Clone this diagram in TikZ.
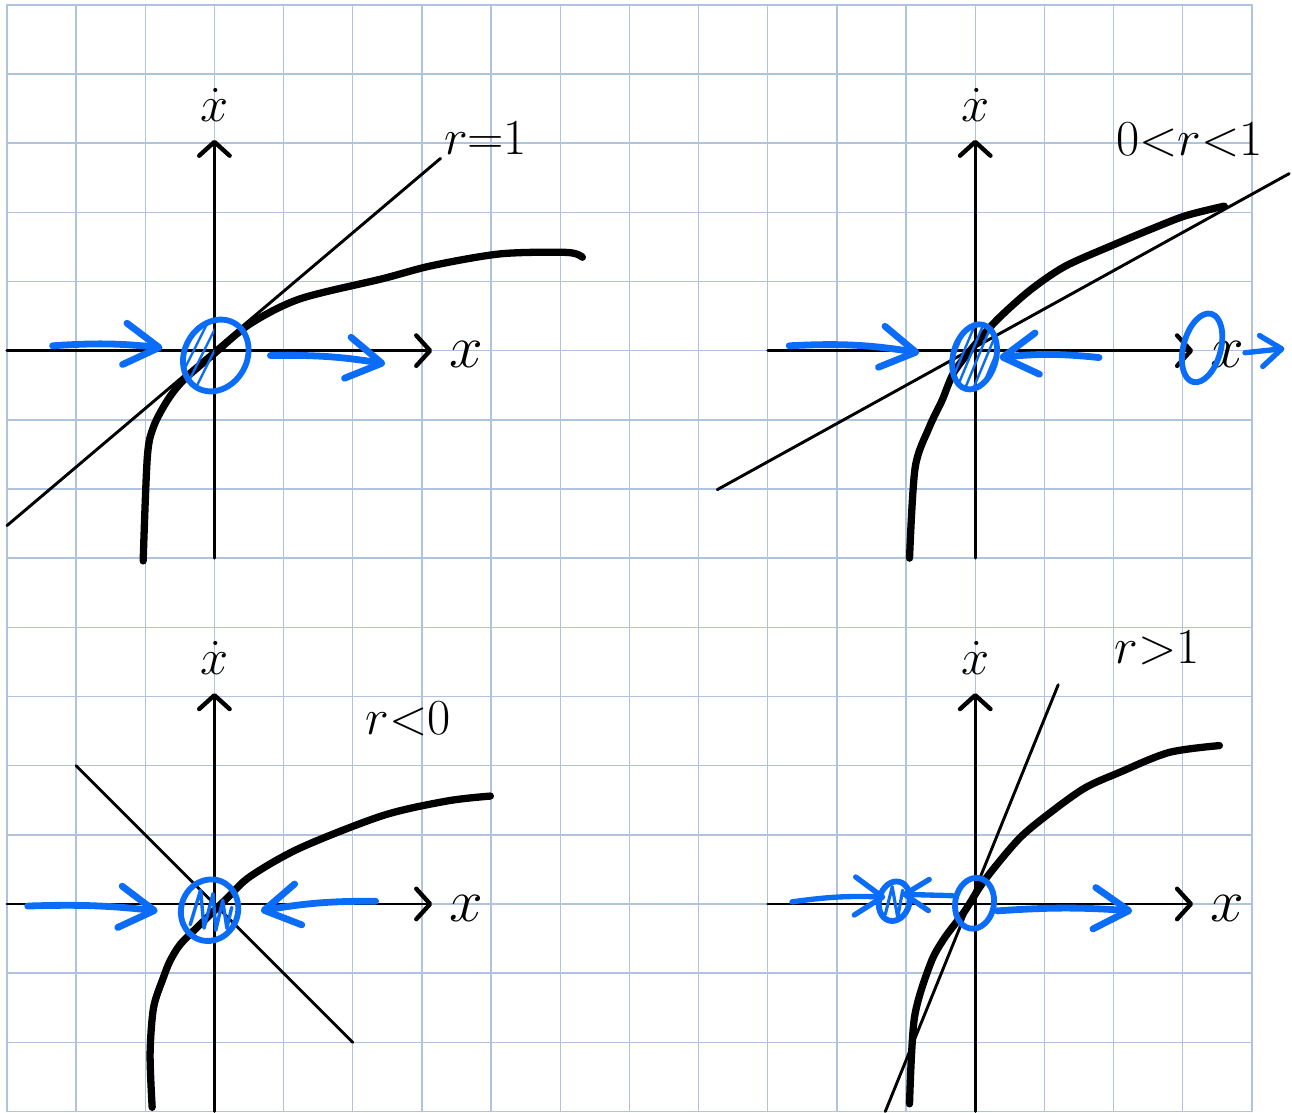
\documentclass[tikz,border=0pt]{standalone}
\usepackage{amsmath}
\usepackage{xcolor}
\usepackage{tikz}
\usetikzlibrary{arrows.meta}
\definecolor{gridblue}{HTML}{AFC2DE}
\definecolor{penblue}{HTML}{0B6CF7}

\begin{document}
\begin{tikzpicture}[
    line cap=round, line join=round,
    gridline/.style={gridblue, line width=0.6pt},
    axis/.style={line width=1.2pt, -{Straight Barb[length=2mm, width=4.4mm, line width=1.8pt, round]}},
    thinline/.style={line width=1.2pt},
    curve/.style={line width=3pt},
    pen/.style={penblue, line width=2.4pt},
    hatch/.style={penblue, line width=1pt},
    flow/.style={penblue, line width=2.8pt, -{Straight Barb[length=5mm, width=6mm, round]}},
    smallflow/.style={penblue, line width=2.2pt, -{Straight Barb[length=3mm, width=4.5mm, round]}},
    lbl/.style={inner sep=0pt, font=\fontsize{20}{22}\selectfont},
    xdotlbl/.style={inner sep=0pt, anchor=base, font=\fontsize{22}{24}\selectfont},
    xlbl/.style={inner sep=0pt, anchor=base, font=\fontsize{28}{30}\selectfont},
  ]
  \useasboundingbox (-0.1,-0.015) rectangle (18.58,16.07);
  \draw[gridline] (0,0) grid (18,16);

  % Axes
  \foreach \ox/\oy/\k in {3/11/a, 14/11/b, 3/3/c, 14/3/d} {
    \begin{scope}[shift={(\ox,\oy)}]
      \draw[axis] (-3,0) -- (3.15,0);
      \draw[axis] (0,-3) -- (0,3.05);
      \node[xdotlbl] (xdot-\k) at (0,3.32) {$\dot{x}$};
      \node[xlbl] (x-\k) at (3.64,-0.25) {$x$};
    \end{scope}
  }

  % r = 1
  \begin{scope}[shift={(3,11)}]
    \draw[thinline] (-3,-2.53) -- (3.27,2.78);
    \node[lbl] (ra) at (3.92,3.07) {$r{=}1$};
    \draw[curve] plot[smooth] coordinates {(-1.03,-3.04) (-0.97,-1.54) (-0.88,-1.1) (-0.68,-0.72) (-0.45,-0.43) (0,-0.04) (0.52,0.39) (1.24,0.75) (2.43,1.04) (3.15,1.23) (4.14,1.4) (5.1,1.42) (5.32,1.35)};
    \begin{scope}
      \clip[shift={(0.02,-0.07)}, rotate=-30] (0,0) ellipse (0.45 and 0.54);
      \clip (-1,-1) rectangle (0,1);
      \foreach \d in {-0.6,-0.45,...,0.1}
        \draw[hatch] (\d-0.3,-0.6) -- (\d+0.3,0.6);
    \end{scope}
    \draw[pen, shift={(0.02,-0.07)}, rotate=-30] (0,0) ellipse (0.45 and 0.54);
    \draw[flow] (-2.34,0.07) to[bend left=5] (-0.75,0.04);
    \draw[flow] (0.81,-0.07) to[bend left=5] (2.47,-0.19);
  \end{scope}

  % 0 < r < 1
  \begin{scope}[shift={(14,11)}]
    \draw[thinline] (-3.73,-2.01) -- (4.54,2.56);
    \node[lbl] (rb) at (3.1,3.04) {$0{<}r{<}1$};
    \draw[curve] plot[smooth] coordinates {(-0.95,-3.0) (-0.87,-1.7) (-0.67,-1.12) (-0.48,-0.72) (-0.3,-0.3) (0.05,0.15) (0.35,0.48) (0.8,0.88) (1.3,1.22) (2.0,1.53) (2.55,1.76) (3.04,1.95) (3.6,2.09)};
    \begin{scope}
      \clip[shift={(-0.01,-0.09)}, rotate=-15] (0,0) ellipse (0.31 and 0.48);
      \foreach \d in {-0.4,-0.28,...,0.4}
        \draw[hatch] (\d-0.25,-0.6) -- (\d+0.25,0.6);
    \end{scope}
    \draw[pen, shift={(-0.01,-0.09)}, rotate=-15] (0,0) ellipse (0.31 and 0.48);
    \draw[pen, shift={(3.28,0.04)}, rotate=-15] (0,0) ellipse (0.27 and 0.51);
    \draw[flow] (-2.69,0.07) to[bend left=6] (-0.81,-0.03);
    \draw[flow] (1.79,-0.1) to[bend right=6] (0.35,-0.1);
    \draw[smallflow] (3.9,-0.03) -- (4.47,0.03);
  \end{scope}

  % r < 0
  \begin{scope}[shift={(3,3)}]
    \draw[thinline] (-2,2) -- (2,-2);
    \node[lbl] (rc) at (2.8,2.67) {$r{<}0$};
    \draw[curve] plot[smooth] coordinates {(-0.9,-2.94) (-0.93,-2.17) (-0.88,-1.5) (-0.74,-1.07) (-0.64,-0.82) (-0.49,-0.58) (-0.2,-0.29) (0.19,0.09) (0.52,0.4) (1.24,0.81) (2.44,1.28) (3.37,1.49) (3.99,1.56)};
    \draw[hatch, line width=1.4pt] (-0.35,-0.3) -- (-0.2,0.2) -- (-0.15,-0.35) -- (-0.02,0.15) -- (0.02,-0.38) -- (0.12,0.05) -- (0.18,-0.35) -- (0.25,-0.05);
    \draw[pen, shift={(-0.07,-0.09)}, rotate=-20] (0,0) ellipse (0.41 and 0.45);
    \draw[flow] (-2.7,-0.03) to[bend left=4] (-0.82,-0.1);
    \draw[flow] (2.33,0.04) to[bend right=5] (0.67,-0.1);
  \end{scope}

  % r > 1
  \begin{scope}[shift={(14,3)}]
    \draw[thinline] (-1.3,-3.0) -- (1.2,3.17);
    \node[lbl] (rd) at (2.63,3.7) {$r{>}1$};
    \draw[curve] plot[smooth] coordinates {(-0.95,-2.89) (-0.88,-1.65) (-0.65,-0.87) (-0.45,-0.5) (-0.15,-0.1) (0.14,0.35) (0.64,0.95) (1.11,1.34) (1.59,1.68) (2.08,1.9) (2.8,2.19) (3.53,2.29)};
    \draw[hatch, line width=1.3pt] (-1.3,-0.15) -- (-1.2,0.25) -- (-1.12,-0.2) -- (-1.05,0.2);
    \draw[pen, shift={(-1.17,0.04)}, rotate=-15] (0,0) ellipse (0.22 and 0.29);
    \draw[pen, shift={(-0.01,0.01)}, rotate=-10] (0,0) ellipse (0.28 and 0.37);
    \draw[smallflow, -{Straight Barb[length=4mm, width=5.5mm, round]}] (-2.65,0.03) to[bend left=5] (-1.3,0.1);
    \draw[smallflow, -{Straight Barb[length=3.5mm, width=4.5mm, round]}] (-0.33,0.12) -- (-1.06,0.14);
    \draw[flow] (0.32,-0.1) to[bend left=4] (2.27,-0.1);
  \end{scope}
\end{tikzpicture}
\end{document}
